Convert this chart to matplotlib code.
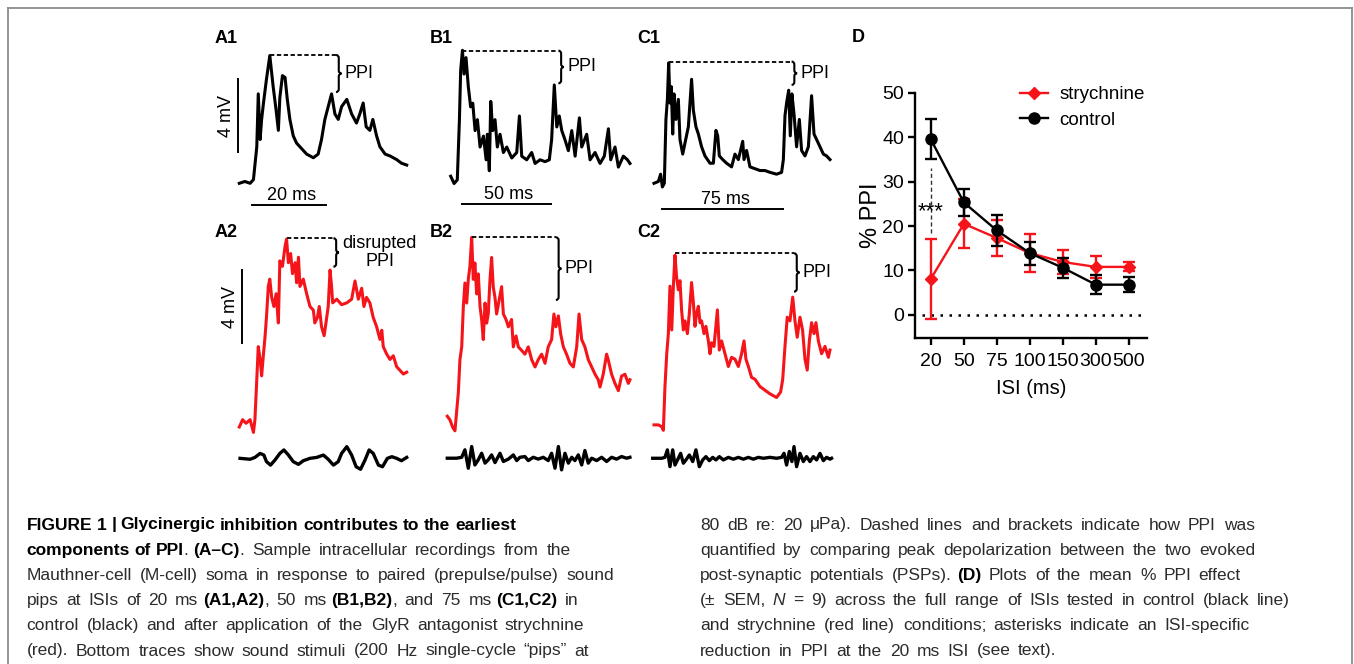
import numpy as np
import matplotlib
matplotlib.use('Agg')
import matplotlib.pyplot as plt
from matplotlib.path import Path
import matplotlib.patches as mpatches
from matplotlib.lines import Line2D

plt.rcParams['font.family'] = ['Liberation Sans', 'DejaVu Sans']

W, H = 1354, 664
PX_MV = 18.25          # vertical scale of the recordings, px per mV
RED = '#f4141a'

# ---------------- panel D data ----------------
isi_labels = ['20', '50', '75', '100', '150', '300', '500']
ctrl_mean = [39.5, 25.3, 19.0, 13.9, 10.6, 6.8, 6.8]
ctrl_sem = [4.5, 3.0, 3.5, 2.6, 2.3, 2.2, 1.7]
stry_mean = [8.1, 20.5, 17.3, 13.9, 11.9, 10.8, 10.8]
stry_sem = [9.0, 5.5, 4.0, 4.3, 2.8, 2.5, 1.0]

# ---------------- recordings (ms, mV above baseline) ----------------
a1_t = [0, 1.5, 2.9, 3.8, 4.7, 5.1, 5.6, 6.0, 6.5, 7.3, 8.2, 9.1, 9.9, 10.5, 10.9, 11.6,
        12.3, 12.9, 13.6, 14.5, 15.4, 16.3, 18.1, 19.9, 21.2, 22.1, 23.0, 23.9, 24.8,
        25.7, 26.6, 27.5, 28.9, 30.2, 31.5, 32.4, 33.3, 34.1, 35.1, 35.9, 36.9, 37.8,
        39.2, 40.5, 42.3, 43.6, 45.0]
a1_v = [0, 0.1, 0.0, 0.2, 2.0, 4.9, 2.4, 3.5, 4.4, 5.7, 7.0, 5.3, 4.0, 2.9, 4.7, 5.9,
        5.8, 4.6, 3.5, 2.6, 2.2, 2.0, 1.6, 1.4, 1.6, 2.4, 3.5, 4.2, 4.9,
        3.8, 3.5, 4.2, 4.6, 3.8, 3.3, 3.8, 4.4, 3.1, 2.9, 3.5, 2.6, 2.0,
        1.6, 1.5, 1.3, 1.1, 1.0]

b1_t = [0, 1.9, 3.7, 4.9, 5.6, 6.6, 7.5, 8.6, 9.9, 11.2, 12.4, 13.7, 15.0, 16.5, 18.4,
        19.9, 20.6, 21.7, 22.5, 23.6, 24.9, 26.2, 27.7, 29.6, 31.5, 34.3, 37.1, 38.6,
        39.9, 42.7, 45.5, 47.4, 50.2, 53.0, 55.4, 56.7, 58.2, 59.6, 61.0, 62.4, 64.2,
        66.1, 68.0, 69.9, 72.3, 73.6, 76.4, 78.3, 81.1, 83.9, 86.3, 88.6, 89.9, 92.3,
        94.2, 97.0, 99.3, 100.7]
b1_v = [0.3, -0.1, 0.1, 3.4, 6.1, 7.2, 5.9, 6.8, 5.2, 4.1, 4.3, 2.8, 3.4, 1.9, 2.5,
        1.2, 2.6, 0.6, 4.4, 2.8, 3.4, 1.9, 2.6, 1.6, 1.9, 1.3, 1.6, 3.6,
        1.4, 1.2, 1.6, 1.0, 1.2, 1.1, 1.2, 2.3, 5.3, 3.0, 3.6, 2.8, 2.3,
        1.7, 2.8, 1.4, 3.5, 1.9, 2.6, 1.2, 1.6, 1.0, 1.4, 2.9, 1.2, 1.9,
        0.8, 1.4, 1.2, 1.0]

c1_t = [0, 2.7, 4.1, 5.2, 6.4, 7.4, 8.3, 9.1, 9.9, 10.7, 11.6, 12.4, 13.6, 15.1, 16.1,
        17.8, 19.2, 21.3, 23.3, 24.4, 26.0, 27.5, 29.5, 31.6, 34.7, 36.8, 38.4, 39.5,
        40.5, 42.6, 45.0, 48.1, 50.2, 52.3, 55.0, 55.8, 57.4, 59.5, 62.6, 65.7, 68.8,
        71.9, 76.0, 79.1, 80.2, 81.2, 82.2, 83.5, 84.5, 85.5, 86.8, 88.4, 90.1, 91.5,
        93.6, 95.7, 97.7, 99.2, 100.8, 102.9, 105.0, 107.0, 109.1]
c1_v = [0, 0.1, 0.5, -0.2, 0, 3.5, 4.6, 6.6, 4.4, 5.3, 2.7, 4.9, 3.5, 4.6, 2.4,
        1.6, 2.2, 3.1, 5.7, 4.0, 3.1, 2.7, 2.0, 1.5, 1.1, 1.1, 2.9, 2.6,
        1.5, 1.3, 1.1, 0.9, 1.6, 1.3, 2.3, 1.3, 1.8, 0.9, 0.8, 0.7, 0.7,
        0.6, 0.5, 0.6, 1.3, 3.7, 4.4, 5.1, 2.6, 4.9, 3.8, 2.0, 3.5, 1.8,
        1.5, 2.0, 4.8, 2.7, 2.4, 2.0, 1.6, 1.5, 1.3]

a2_t = [0, 0.9, 1.8, 2.9, 3.8, 4.2, 4.7, 5.1, 5.6, 6.0, 6.5, 6.9, 7.3, 7.8, 8.2, 8.7,
        9.3, 9.9, 10.5, 10.9, 11.6, 12.3, 12.7, 13.2, 13.8, 14.3, 15.0, 15.4, 15.9,
        16.3, 17.2, 18.1, 19.0, 19.9, 20.3, 21.0, 21.5, 22.1, 22.8, 23.3, 23.9, 24.4,
        24.8, 25.1, 26.2, 27.5, 28.9, 30.2, 31.1, 32.0, 32.9, 33.5, 34.2, 35.1, 36.0,
        36.9, 37.8, 38.3, 38.7, 39.6, 40.5, 41.4, 42.3, 43.2, 44.1, 45.0]
a2_v = [-0.2, 0.2, 0, 0.2, -0.5, 0.2, 2.4, 4.2, 3.5, 2.6, 3.8, 4.7, 5.8, 7.5, 7.9, 6.9,
        6.4, 7.1, 5.5, 8.9, 8.6, 9.7, 10.1, 8.8, 9.3, 8.2, 8.8, 7.7, 9.1,
        7.5, 7.9, 7.1, 6.4, 6.2, 5.5, 5.8, 6.4, 5.3, 4.8, 5.5, 6.4, 8.4,
        7.5, 6.6, 6.8, 6.5, 6.6, 6.8, 7.8, 6.8, 7.4, 6.4, 6.9, 6.6, 5.8,
        5.3, 4.6, 5.1, 4.2, 3.8, 3.5, 3.7, 3.1, 2.9, 2.7, 2.8]

b2_t = [0, 1.5, 3.0, 4.3, 5.2, 6.2, 7.1, 8.1, 9.0, 9.9, 10.9, 11.8, 12.7, 13.7, 14.6,
        15.5, 16.5, 17.4, 18.4, 19.3, 20.2, 21.2, 22.1, 23.0, 24.0, 24.9, 25.8, 26.8,
        27.7, 29.2, 30.5, 31.5, 33.0, 34.3, 36.1, 37.1, 38.6, 39.9, 41.8, 43.6, 45.5,
        47.4, 49.3, 51.1, 53.0, 54.9, 56.7, 58.6, 59.9, 61.0, 62.4, 63.7, 65.2, 67.0,
        68.9, 70.8, 72.7, 74.0, 75.5, 77.3, 79.2, 81.1, 83.0, 84.8, 85.8, 87.6, 89.5,
        90.4, 92.3, 94.2, 96.1, 97.9, 99.8, 101.7, 102.6]
b2_v = [0.3, 0.1, -0.3, -0.5, 0.5, 1.6, 3.4, 4.1, 6.3, 7.6, 6.5, 7.8, 8.5, 10.1, 7.8,
        8.7, 7.0, 8.1, 6.3, 5.6, 4.5, 6.5, 5.4, 5.9, 7.8, 9.0, 7.4, 6.8,
        5.9, 6.7, 7.4, 5.9, 5.6, 5.2, 5.6, 4.1, 4.7, 4.1, 3.9, 3.7, 4.1,
        3.4, 3.0, 3.4, 3.7, 3.2, 4.1, 4.5, 5.9, 5.2, 5.8, 4.8, 4.1, 3.7,
        3.2, 3.0, 4.1, 5.9, 4.5, 4.1, 3.4, 3.0, 2.6, 2.3, 1.9, 2.6, 3.7,
        3.4, 2.6, 2.1, 1.7, 2.5, 2.6, 2.1, 2.3]

c2_t = [0, 2.7, 4.8, 5.8, 6.8, 7.9, 8.9, 9.9, 11.0, 12.0, 13.0, 14.0, 15.1, 16.1, 17.1,
        18.2, 19.2, 20.7, 21.9, 23.3, 24.4, 25.4, 26.4, 27.5, 28.5, 29.5, 31.0, 32.2,
        33.7, 34.7, 35.7, 37.2, 39.3, 40.5, 41.9, 44.0, 46.1, 48.1, 50.2, 52.3, 54.3,
        55.8, 57.0, 58.5, 60.5, 62.6, 65.7, 68.8, 71.9, 76.0, 78.5, 79.8, 81.2, 82.6,
        84.3, 86.0, 87.4, 88.8, 90.5, 92.1, 93.6, 95.0, 96.3, 97.7, 99.2, 100.4, 101.9,
        103.9, 106.0, 108.1, 109.1]
c2_v = [0.1, 0.1, 0, -0.2, 2.2, 4.0, 5.1, 7.7, 5.3, 7.7, 9.4, 8.2, 7.5, 8.0, 6.4,
        5.3, 5.8, 5.1, 6.2, 7.9, 6.8, 5.5, 6.2, 6.6, 5.7, 5.8, 5.1, 5.5,
        4.7, 4.0, 4.6, 4.4, 6.4, 4.2, 4.7, 4.0, 3.3, 3.8, 3.7, 3.3, 4.0,
        4.7, 3.7, 3.3, 2.7, 2.6, 2.2, 2.0, 1.8, 1.6, 1.9, 2.6, 4.4, 6.0,
        5.8, 7.1, 5.8, 4.9, 6.0, 5.3, 3.7, 3.1, 4.7, 5.7, 5.1, 5.7, 4.7,
        4.0, 4.4, 3.8, 4.2]

# sound stimuli (ms, arbitrary units in mV of the panel)
sa_t = [0.2, 2.9, 4.2, 5.6, 6.6, 7.3, 8.4, 9.6, 10.9, 12.0, 13.2, 14.5, 15.9, 17.2, 19.0,
        20.8, 22.6, 23.9, 25.3, 26.6, 27.5, 28.9, 30.2, 31.4, 32.6, 33.8, 34.9, 36.0,
        37.4, 38.5, 39.8, 41.0, 42.3, 43.6, 45.0]
sa_v = [0, -0.05, 0.05, 0.27, 0.18, -0.18, -0.37, -0.09, 0.27, 0.46, 0.18, -0.18, -0.33,
        -0.13, 0, 0.05, 0.18, -0.05, -0.37, -0.18, 0.27, 0.64, 0.18, -0.46, -0.6, -0.09,
        0.46, 0.27, -0.37, -0.46, 0, 0.09, 0, -0.13, 0.05]

sb_t = [0, 5.2, 8.1, 9.9, 11.8, 13.7, 15.5, 17.4, 19.3, 21.2, 23.0, 24.9, 26.8, 29.6,
        31.5, 34.3, 37.1, 39.0, 40.8, 43.6, 45.5, 48.3, 51.1, 53.9, 56.7, 58.6, 60.5,
        62.4, 64.2, 66.1, 68.0, 69.9, 71.7, 73.6, 75.5, 77.3, 79.2, 81.1, 83.9, 86.7,
        89.5, 92.3, 95.1, 97.9, 100.7, 102.6]
sb_v = [0, 0, 0.05, 0.46, -0.55, 0.64, -0.37, -0.09, 0.27, -0.27, -0.09, 0.18, -0.24,
        0.27, -0.18, -0.05, 0.18, -0.13, 0.05, 0.09, -0.13, 0.05, -0.05, 0.05, -0.13,
        0.27, -0.55, 0.64, -0.64, 0.27, -0.27, 0.05, -0.13, 0.18, -0.37, 0.42, -0.27,
        0, -0.13, 0.05, -0.18, 0.05, -0.05, 0.09, 0, 0.05]

sc_t = [-0.8, 4.8, 6.8, 8.3, 9.9, 11.6, 13.0, 15.1, 16.5, 18.2, 19.8, 21.9, 24.0, 26.0,
        28.1, 30.2, 32.2, 34.3, 36.4, 38.4, 40.5, 43.0, 46.1, 49.2, 52.3, 55.4, 58.5,
        61.6, 64.7, 67.8, 71.9, 76.0, 79.1, 80.6, 82.2, 83.9, 85.5, 86.8, 88.4, 90.5,
        92.6, 94.6, 96.7, 98.8, 100.8, 102.9, 105.0, 107.0, 109.1, 110.1]
sc_v = [0, 0, 0.05, 0.46, -0.46, 0.46, -0.37, 0, 0.27, -0.27, -0.09, 0.18, -0.18, 0.46,
        -0.46, -0.09, 0.09, -0.13, 0.05, -0.09, 0.09, -0.09, 0.05, -0.05, 0.05, -0.05,
        0.05, -0.05, 0.05, 0, 0.05, 0, 0.05, 0.27, -0.37, 0.37, -0.18, 0.64, -0.46,
        0.27, -0.18, 0.09, -0.18, 0.09, -0.09, 0.27, -0.13, 0.05, -0.05, 0]

fig = plt.figure(figsize=(W / 100, H / 100), dpi=100)


def px_axes(l, t, w, h):
    return fig.add_axes([l / W, 1 - (t + h) / H, w / W, h / H])


def trace_panel(x0, y0, pxms):
    # axes whose data origin (0 ms, 0 mV) sits at pixel (x0, y0)
    l, t, w, h = x0 - 40, y0 - 180, 240, 250
    ax = px_axes(l, t, w, h)
    ax.set_xlim((l - x0) / pxms, (l + w - x0) / pxms)
    ax.set_ylim((y0 - (t + h)) / PX_MV, (y0 - t) / PX_MV)
    ax.axis('off')
    return ax


def brace(ax, t, v_top, v_bot, pxms, w_px=5.5, r_px=3.0):
    w = w_px / pxms
    rv = r_px / PX_MV
    vm = (v_top + v_bot) / 2
    verts = [(t, v_top), (t + w / 2, v_top), (t + w / 2, v_top - rv),
             (t + w / 2, vm + rv), (t + w / 2, vm), (t + w, vm),
             (t + w / 2, vm), (t + w / 2, vm - rv),
             (t + w / 2, v_bot + rv), (t + w / 2, v_bot), (t, v_bot)]
    codes = [Path.MOVETO, Path.CURVE3, Path.CURVE3, Path.LINETO, Path.CURVE3, Path.CURVE3,
             Path.CURVE3, Path.CURVE3, Path.LINETO, Path.CURVE3, Path.CURVE3]
    ax.add_patch(mpatches.PathPatch(Path(verts, codes), fill=False, lw=1.5,
                                    color='black', clip_on=False))
    return t + w, vm


def ppi_marking(ax, pxms, t_peak, v_peak, t_brace, v_bot, label='PPI'):
    ax.plot([t_peak, t_brace], [v_peak, v_peak], color='black', lw=1.3,
            ls=(0, (2.4, 1.4)), clip_on=False)
    tx, ty = brace(ax, t_brace, v_peak, v_bot, pxms)
    ax.annotate(label, (tx, ty), xytext=(2.5, 0), textcoords='offset points',
                ha='left', va='center', fontsize=13, multialignment='center',
                linespacing=1.05)


def time_bar(ax, t_start, length, v, label):
    ax.plot([t_start, t_start + length], [v, v], color='black', lw=1.4, clip_on=False)
    ax.annotate(label, (t_start + length / 2, v), xytext=(2, 3.5), textcoords='offset points',
                ha='center', va='baseline', fontsize=13)


def mv_bar(ax, t, v_lo, v_hi):
    ax.plot([t, t], [v_lo, v_hi], color='black', lw=1.4, clip_on=False)
    ax.annotate('4 mV', (t, (v_lo + v_hi) / 2), xytext=(-2, 0), textcoords='offset points',
                ha='right', va='center', rotation=90, fontsize=13)


TR_LW = 2.2
# row 1: control
ax = trace_panel(239.3, 183.3, 3.72)
ax.plot(a1_t, a1_v, color='black', lw=TR_LW, clip_on=False)
ppi_marking(ax, 3.72, 8.2, 7.03, 26.0, 5.0)
time_bar(ax, 3.3, 20, -1.19, '20 ms')
mv_bar(ax, -0.4, 1.7, 5.7)

ax = trace_panel(450.7, 181.7, 1.78)
ax.plot(b1_t, b1_v, color='black', lw=TR_LW, clip_on=False)
ppi_marking(ax, 1.78, 6.6, 7.18, 60.5, 5.39)
time_bar(ax, 6.2, 50, -1.24, '50 ms')

ax = trace_panel(654.0, 183.3, 1.613)
ax.plot(c1_t, c1_v, color='black', lw=TR_LW, clip_on=False)
ppi_marking(ax, 1.613, 9.1, 6.67, 85.3, 5.39)
time_bar(ax, 5.2, 75, -1.41, '75 ms')

# row 2: strychnine + stimuli
ax = trace_panel(239.3, 423.3, 3.72)
ax.plot(a2_t, a2_v, color=RED, lw=TR_LW, clip_on=False)
ax.plot(sa_t, np.array(sa_v) - 1.92, color='black', lw=2.4, clip_on=False)
ppi_marking(ax, 3.72, 12.7, 10.14, 25.3, 8.58, label='disrupted\nPPI')
mv_bar(ax, 0.6, 4.4, 8.4)

ax = trace_panel(447.3, 421.7, 1.78)
ax.plot(b2_t, b2_v, color=RED, lw=TR_LW, clip_on=False)
ax.plot(sb_t, np.array(sb_v) - 2.0, color='black', lw=2.4, clip_on=False)
ppi_marking(ax, 1.78, 13.7, 10.1, 61.0, 6.67)

ax = trace_panel(654.0, 426.7, 1.613)
ax.plot(c2_t, c2_v, color=RED, lw=TR_LW, clip_on=False)
ax.plot(sc_t, np.array(sc_v) - 1.73, color='black', lw=2.4, clip_on=False)
ppi_marking(ax, 1.613, 13.0, 9.5, 86.8, 7.4)

# panel letters
for lab, x, y in [('A1', 215, 38.7), ('B1', 430, 38.7), ('C1', 637, 38.7),
                  ('A2', 215, 233), ('B2', 430, 233), ('C2', 637, 233), ('D', 852, 37)]:
    fig.text(x / W, 1 - y / H, lab, fontsize=13, fontweight='bold', va='center', ha='left')

# ---------------- panel D ----------------
axd = px_axes(915, 92.7, 232, 245.3)
x = np.arange(len(isi_labels))
axd.errorbar(x, stry_mean, yerr=stry_sem, color=RED, marker='D', ms=6.5, lw=1.7,
             elinewidth=1.7, capsize=4.3, capthick=1.7, zorder=3, clip_on=False)
axd.errorbar(x, ctrl_mean, yerr=ctrl_sem, color='black', marker='o', ms=8, lw=1.7,
             elinewidth=1.7, capsize=4.3, capthick=1.7, zorder=4, clip_on=False)
axd.axhline(0, xmin=0.03, xmax=0.995, color='black', lw=1.8, ls=(0, (1, 2.6)), zorder=1)
axd.plot([0, 0], [18.5, 33.0], color='#333333', lw=1.0, ls=(0, (3, 2)), zorder=2)
axd.text(0, 23.3, '***', ha='center', va='center', fontsize=16)
axd.set_xlim(-0.48, 6.55)
axd.set_ylim(-5.2, 50)
axd.set_yticks([0, 10, 20, 30, 40, 50])
axd.set_xticks(x)
axd.set_xticklabels(isi_labels)
axd.tick_params(labelsize=14, width=1.7, length=5, pad=3)
axd.tick_params(axis='x', pad=6)
for s in ['top', 'right']:
    axd.spines[s].set_visible(False)
for s in ['left', 'bottom']:
    axd.spines[s].set_linewidth(1.7)
axd.set_ylabel('% PPI', fontsize=17, labelpad=0)
axd.set_xlabel('ISI (ms)', fontsize=14.5, labelpad=6)
axd.patch.set_visible(False)
h_stry = Line2D([], [], color=RED, marker='D', ms=6.5, lw=1.7)
h_ctrl = Line2D([], [], color='black', marker='o', ms=8, lw=1.7)
axd.legend([h_stry, h_ctrl], ['strychnine', 'control'], loc='upper left',
           bbox_to_anchor=(1020 / W, 1 - 86 / H), bbox_transform=fig.transFigure,
           frameon=False, fontsize=13.5, handlelength=1.5, handletextpad=0.6,
           labelspacing=0.45, borderpad=0, borderaxespad=0)

# ---------------- frame ----------------
fr = dict(transform=fig.transFigure, color='#8c8c8c', lw=1.3)
fig.add_artist(Line2D([8 / W, 8 / W], [0, 1 - 8 / H], **fr))
fig.add_artist(Line2D([8 / W, 1352 / W], [1 - 8 / H, 1 - 8 / H], **fr))
fig.add_artist(Line2D([1352 / W, 1352 / W], [0, 1 - 8 / H], **fr))

# ---------------- caption ----------------
CAP_FS = 12.5
GAP = {'normal': 7.6, 'bold': 4.6}   # word spacing in px
B, N, I = ('bold', 'normal'), ('normal', 'normal'), ('normal', 'italic')
cap_left = [
    [('FIGURE 1 | Glycinergic inhibition contributes to the earliest', B, True)],
    [('components of PPI', B, True), ('.', N, False), ('(A–C)', B, True),
     ('. Sample intracellular recordings from the', N, False)],
    [('Mauthner-cell (M-cell) soma in response to paired (prepulse/pulse) sound', N, True)],
    [('pips at ISIs of 20 ms', N, True), ('(A1,A2)', B, True), (', 50 ms', N, False),
     ('(B1,B2)', B, True), (', and 75 ms', N, False), ('(C1,C2)', B, True), ('in', N, True)],
    [('control (black) and after application of the GlyR antagonist strychnine', N, True)],
    [('(red). Bottom traces show sound stimuli (200 Hz single-cycle \u201cpips\u201d at', N, True)],
]
cap_right = [
    [('80 dB re: 20 \u03bcPa). Dashed lines and brackets indicate how PPI was', N, True)],
    [('quantified by comparing peak depolarization between the two evoked', N, True)],
    [('post-synaptic potentials (PSPs).', N, True), ('(D)', B, True),
     ('Plots of the mean % PPI effect', N, True)],
    [('(\u00b1 SEM,', N, True), ('N', I, True),
     ('= 9) across the full range of ISIs tested in control (black line)', N, True)],
    [('and strychnine (red line) conditions; asterisks indicate an ISI-specific', N, True)],
    [('reduction in PPI at the 20 ms ISI (see text).', N, True)],
]

renderer = fig.canvas.get_renderer()


def rich_line(x, y, parts):
    # words placed one by one, the caption font has wide word spacing
    cur = None
    for txt, (wt, st), space in parts:
        col = 'black' if wt == 'bold' else '#2b2b2b'
        for k, word in enumerate(txt.split(' ')):
            if cur is not None and (k > 0 or space):
                cur += GAP[wt]
            elif cur is None:
                cur = x
            t = fig.text(cur / W, 1 - y / H, word, fontsize=CAP_FS, fontweight=wt,
                         fontstyle=st, color=col, va='baseline', ha='left')
            cur = t.get_window_extent(renderer).x1


for i, parts in enumerate(cap_left):
    rich_line(26.7, 529.5 + 25.2 * i, parts)
for i, parts in enumerate(cap_right):
    rich_line(700, 529.5 + 25.2 * i, parts)

fig.savefig('out.png', dpi=100)
